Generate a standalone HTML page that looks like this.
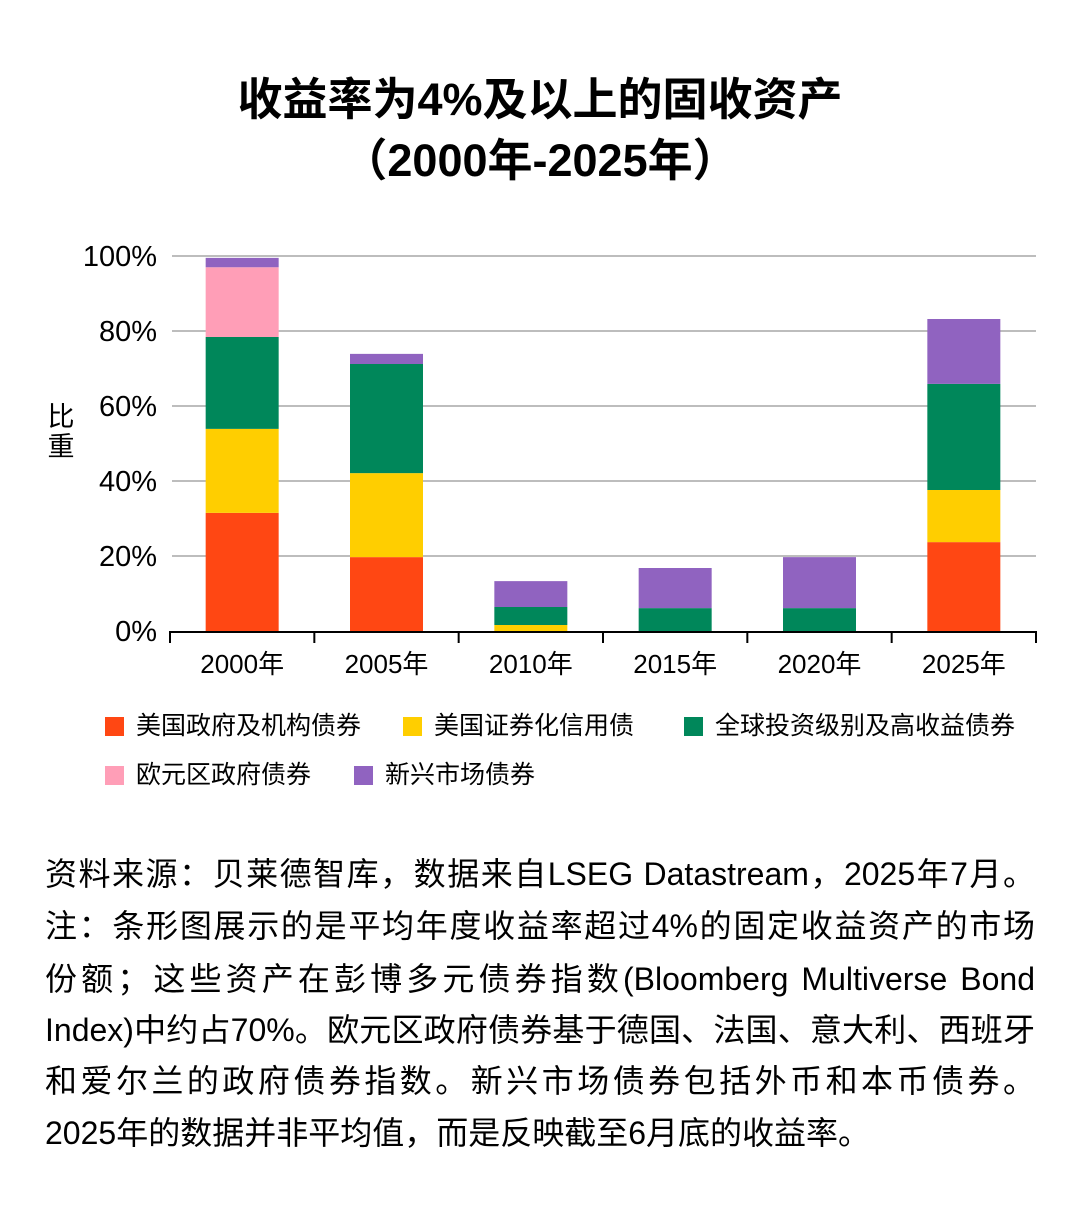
<!DOCTYPE html>
<html><head><meta charset="utf-8">
<style>
html,body{margin:0;padding:0;background:#fff;}
body{width:1080px;height:1218px;position:relative;overflow:hidden;font-family:"Liberation Sans","Noto Sans CJK SC",sans-serif;color:#000;}
.title{position:absolute;left:0;width:1080px;text-align:center;font-weight:bold;font-size:45px;}
.legend-item{position:absolute;font-size:25px;line-height:26px;white-space:nowrap;}
.legend-item span.sw{display:inline-block;width:19px;height:19px;vertical-align:-2px;margin-right:12px;}
.note{position:absolute;left:45px;width:990px;font-size:32px;line-height:36px;text-align:justify;text-align-last:justify;white-space:nowrap;}
</style></head>
<body>
<div class="title" style="top:63px;">收益率为4%及以上的固收资产</div>
<div class="title" style="top:124px;">（2000年-2025年）</div>

<svg id="chart" width="1080" height="800" style="position:absolute;left:0;top:0;"></svg>

<div class="legend-item" style="left:105px;top:713px;"><span class="sw" style="background:#FF4713"></span>美国政府及机构债券</div>
<div class="legend-item" style="left:403px;top:713px;"><span class="sw" style="background:#FFCE00"></span>美国证券化信用债</div>
<div class="legend-item" style="left:684px;top:713px;"><span class="sw" style="background:#00875A"></span>全球投资级别及高收益债券</div>
<div class="legend-item" style="left:105px;top:762px;"><span class="sw" style="background:#FF9EB7"></span>欧元区政府债券</div>
<div class="legend-item" style="left:354px;top:762px;"><span class="sw" style="background:#9063C0"></span>新兴市场债券</div>

<div class="note" style="top:856px;">资料来源：贝莱德智库，数据来自LSEG Datastream，2025年7月。</div>
<div class="note" style="top:908px;">注：条形图展示的是平均年度收益率超过4%的固定收益资产的市场</div>
<div class="note" style="top:961px;">份额；这些资产在彭博多元债券指数(Bloomberg Multiverse Bond</div>
<div class="note" style="top:1012px;">Index)中约占70%。欧元区政府债券基于德国、法国、意大利、西班牙</div>
<div class="note" style="top:1063px;">和爱尔兰的政府债券指数。新兴市场债券包括外币和本币债券。</div>
<div class="note" style="top:1115px;text-align-last:left;">2025年的数据并非平均值，而是反映截至6月底的收益率。</div>

<script>
const categories = ["2000年","2005年","2010年","2015年","2020年","2025年"];
const usGov = [31.5,19.7,0,0,0,23.7];
const usSecuritized = [22.4,22.4,1.6,0,0,13.9];
const globalIgHy = [24.5,29.1,4.8,6.1,6.1,28.3];
const euroGov = [18.6,0,0,0,0,0];
const emDebt = [2.5,2.7,6.9,10.7,13.6,17.3];
const yTicks = [0,20,40,60,80,100];
const yTickLabels = ["0%","20%","40%","60%","80%","100%"];

const NS="http://www.w3.org/2000/svg";
const svg=document.getElementById('chart');
const x0=170,x1=1036,y0=631,y100=256;
const yScale=v=>y0-(v/100)*(y0-y100);
const step=(x1-x0)/categories.length;
const bw=73;
const xCenter=i=>x0+step*(i+0.5);
function mk(t,a){const e=document.createElementNS(NS,t);for(const k in a)e.setAttribute(k,a[k]);svg.appendChild(e);return e;}

yTicks.forEach((v,i)=>{
  if(v>0){const g=mk('line',{x1:172,x2:x1,y1:yScale(v),y2:yScale(v),stroke:'#bdbdbd','stroke-width':2});
  
  }
  const t=mk('text',{x:157,y:yScale(v)+10,'text-anchor':'end','font-size':29,'font-family':'Liberation Sans, sans-serif'});
  t.textContent=yTickLabels[i];
  
  
});
const seriesList=[[usGov,'#FF4713','us-gov'],[usSecuritized,'#FFCE00','us-securitized'],[globalIgHy,'#00875A','global-ig-hy'],[euroGov,'#FF9EB7','euro-gov'],[emDebt,'#9063C0','em']];
categories.forEach((c,i)=>{
  let acc=0;
  seriesList.forEach(([arr,col,nm])=>{
    const v=arr[i]; if(v<=0)return;
    const r=mk('rect',{x:xCenter(i)-bw/2,y:yScale(acc+v),width:bw,height:yScale(acc)-yScale(acc+v),fill:col});
    
    
    acc+=v;
  });
  const t=mk('text',{x:xCenter(i),y:673,'text-anchor':'middle','font-size':26,'font-family':'Liberation Sans, Noto Sans CJK SC, sans-serif'});
  t.textContent=c;
  
  
});
const ax=mk('line',{x1:x0-1,x2:x1+1,y1:y0+1,y2:y0+1,stroke:'#000','stroke-width':2});


for(let i=0;i<=categories.length;i++){
  const tk=mk('line',{x1:x0+step*i,x2:x0+step*i,y1:y0,y2:y0+12,stroke:'#000','stroke-width':2});
  
  
}
['比','重'].forEach((ch,i)=>{
  const t=mk('text',{x:61,y:426+i*30,'text-anchor':'middle','font-size':27,'font-family':'Noto Sans CJK SC, sans-serif'});
  t.textContent=ch;
  
  
});
</script>
</body></html>
